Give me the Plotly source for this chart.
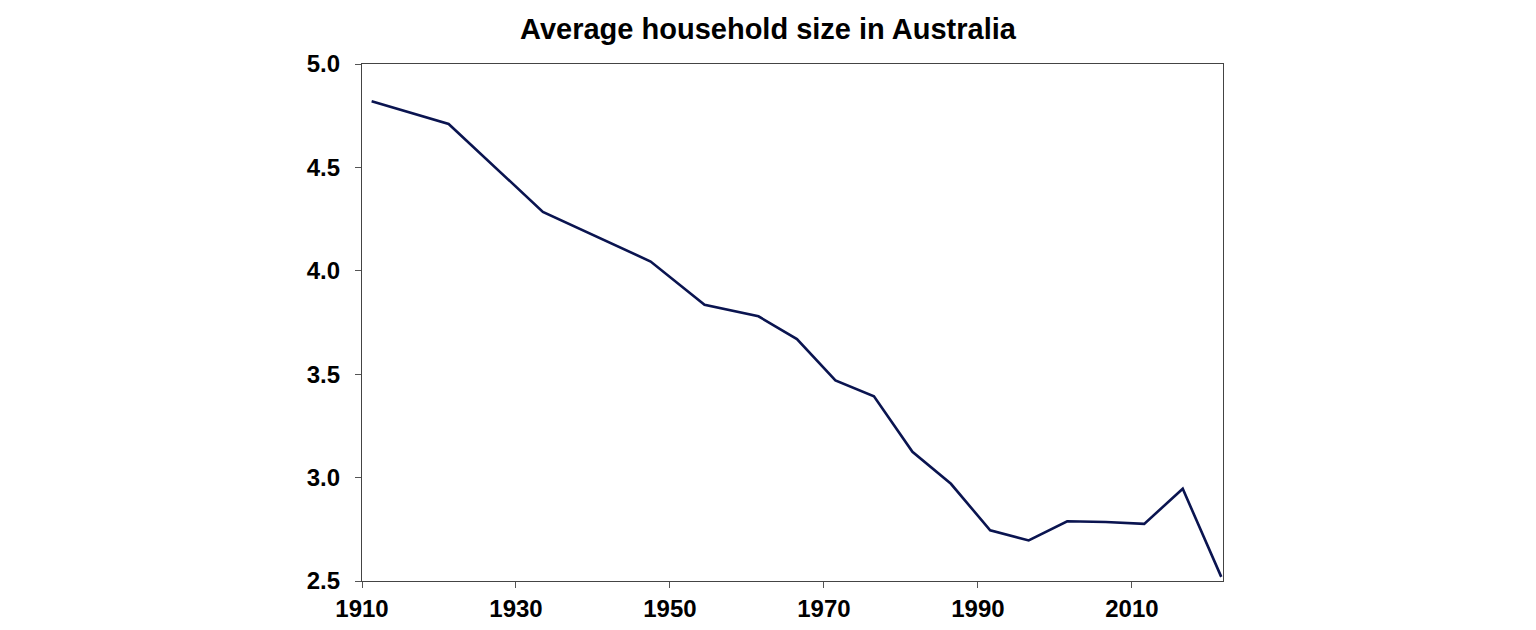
import plotly.graph_objects as go

# census dates and average persons per household
census_dates = ['1911-04-03', '1921-04-04', '1933-06-30', '1947-06-30', '1954-06-30',
                '1961-06-30', '1966-06-30', '1971-06-30', '1976-06-30', '1981-06-30',
                '1986-06-30', '1991-08-06', '1996-08-06', '2001-08-07', '2006-08-08',
                '2011-08-09', '2016-08-09', '2021-08-10']
household_size = [4.82, 4.71, 4.285, 4.045, 3.836,
                  3.78, 3.67, 3.47, 3.393, 3.125,
                  2.97, 2.745, 2.696, 2.789, 2.785,
                  2.776, 2.946, 2.52]

y_ticks = [2.5, 3.0, 3.5, 4.0, 4.5, 5.0]
title_text = 'Average household size in Australia'

fig = go.Figure()
fig.add_trace(go.Scatter(x=census_dates, y=household_size, mode='lines',
                         line=dict(color='#0a1450', width=2.6),
                         showlegend=False))

axis_font = dict(family='Liberation Sans, Arial', size=24, color='black')

fig.update_layout(
    width=1536, height=630,
    paper_bgcolor='white', plot_bgcolor='white',
    margin=dict(l=354, r=321, t=56, b=57),
    title=dict(text='<b>' + title_text + '</b>', x=0.5 - 8 / 1536, xanchor='center',
               y=1 - 21 / 630, yanchor='middle',
               font=dict(family='Liberation Sans, Arial', size=29, color='black')),
    xaxis=dict(type='date', range=['1910-01-01', '2021-11-01'],
               tick0='1910-01-01', dtick='M240', tickformat='<b>%Y</b>',
               ticks='outside', ticklen=6, tickcolor='#555', tickwidth=1,
               showgrid=False, zeroline=False,
               showline=True, linecolor='#444', linewidth=1.3, mirror=True,
               tickfont=axis_font),
    yaxis=dict(range=[2.5, 5.0], tickvals=y_ticks,
               ticktext=['<b>%.1f</b>' % v for v in y_ticks],
               ticks='outside', ticklen=6, tickcolor='#555', tickwidth=1,
               ticklabelstandoff=10,
               showgrid=False, zeroline=False,
               showline=True, linecolor='#444', linewidth=1.3, mirror=True,
               tickfont=axis_font),
)

fig.write_html('out.html')
